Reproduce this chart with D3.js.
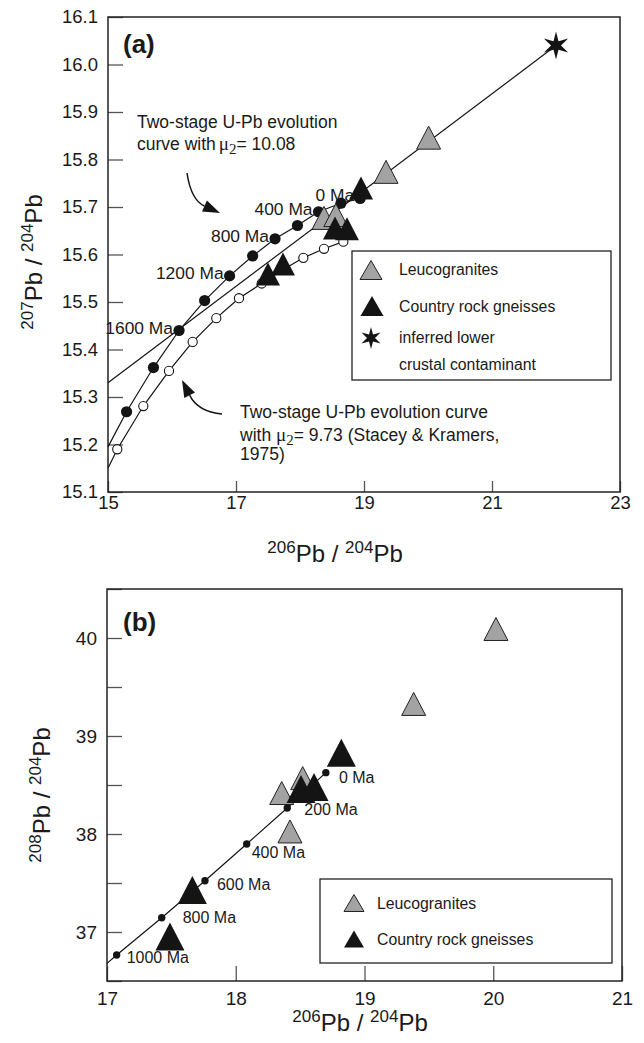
<!DOCTYPE html>
<html>
<head>
<meta charset="utf-8">
<script src="https://cdn.jsdelivr.net/npm/d3@7"></script>
<style>
  body { margin: 0; background: #fff; }
  svg { font-family: "Liberation Sans", Arial, Helvetica, sans-serif; }
</style>
</head>
<body>
<div class="chart"></div>
<script>
// ---------- panel (a) : 207Pb/204Pb vs 206Pb/204Pb ----------
// two-stage curve with mu2 = 10.08, 2000 Ma .. 0 Ma every 200 Ma
const agesA = [2000, 1800, 1600, 1400, 1200, 1000, 800, 600, 400, 200, 0];
const hiCurveX = [15.29, 15.71, 16.11, 16.51, 16.90, 17.26, 17.61, 17.96, 18.29, 18.64, 18.94];
const hiCurveY = [15.269, 15.362, 15.440, 15.503, 15.555, 15.597, 15.633, 15.661, 15.690, 15.708, 15.718];
const hiCurveStart = [15.0, 15.195];
// Stacey & Kramers curve, mu2 = 9.73
const skCurveX = [15.145, 15.552, 15.953, 16.323, 16.692, 17.047, 17.402, 17.734, 18.052, 18.375, 18.677];
const skCurveY = [15.190, 15.281, 15.355, 15.416, 15.466, 15.508, 15.539, 15.568, 15.593, 15.612, 15.627];
const skCurveStart = [15.0, 15.15];
const labelledAgesA = [1600, 1200, 800, 400, 0];
// mixing line towards lower crust
const mixLine = [[15.0, 15.33], [22.0, 16.04]];
const contaminant = [22.0, 16.04];
const leucoA = [[20.01, 15.846], [19.344, 15.774], [18.375, 15.677], [18.56, 15.683]];
const gneissA = [[18.953, 15.74], [18.547, 15.656], [18.734, 15.654], [17.734, 15.58], [17.5, 15.559]];
const xTicksA = [15, 17, 19, 21, 23];
const yTicksA = [15.1, 15.2, 15.3, 15.4, 15.5, 15.6, 15.7, 15.8, 15.9, 16.0, 16.1];

// ---------- panel (b) : 208Pb/204Pb vs 206Pb/204Pb ----------
const agesB = [1000, 800, 600, 400, 200, 0];
const skBX = [17.075, 17.425, 17.761, 18.085, 18.400, 18.70];
const skBY = [36.765, 37.146, 37.523, 37.898, 38.265, 38.626];
const skBStart = [17.0, 36.68];
const leucoB = [[20.021, 40.092], [19.382, 39.327], [18.357, 38.418], [18.421, 38.026], [18.52, 38.57]];
const gneissB = [[18.82, 38.83], [18.507, 38.459], [18.608, 38.48], [17.663, 37.429], [17.489, 36.954]];
const xTicksB = [17, 18, 19, 20, 21];
const yTicksB = [36.5, 37, 37.5, 38, 38.5, 39, 39.5, 40, 40.5];

const legendA = ["Leucogranites", "Country rock gneisses", "inferred lower", "crustal contaminant"];
const legendB = ["Leucogranites", "Country rock gneisses"];

// label placement (pixels) for the age labels of panel (b)
const ageLabelOffsetB = [[10, 8], [21, 5], [12, 9], [5, 14], [17, 7], [13, 10]];

const grey = "#a3a3a3", ink = "#141414";
const serif = "Liberation Serif, Times New Roman, serif";

const triPath = (w, h) => `M0,${-h / 2}L${w / 2},${h / 2}L${-w / 2},${h / 2}Z`;
const starPath = (ro, ri) => {
    const p = [];
    for (let i = 0; i < 12; i++) {
        const a = -Math.PI / 2 + i * Math.PI / 6;
        const r = i % 2 ? ri : ro;
        p.push([r * Math.cos(a), r * Math.sin(a)]);
    }
    return "M" + p.join("L") + "Z";
};

const svg = d3.select(".chart").append("svg")
    .attr("width", 644)
    .attr("height", 1043);

svg.append("rect").attr("width", 644).attr("height", 1043).attr("fill", "#fff");

//title like 206Pb / 204Pb with superscript mass numbers
const isoTitle = (x, y, top, bottom, rotate) => {
    const t = svg.append("text")
        .attr("text-anchor", "middle")
        .attr("fill", "#1a1a1a")
        .attr("transform", `translate(${x},${y})` + (rotate ? " rotate(-90)" : ""));
    [[top, true], ["Pb / ", false], [bottom, true], ["Pb", false]].forEach(([s, sup]) => {
        t.append("tspan")
            .attr("font-size", sup ? 17 : 24)
            .attr("dy", sup ? -9 : 9)
            .text(s);
    });
    t.select("tspan").attr("dy", -9);
};

const styleAxis = (g) => {
    g.select(".domain").remove();
    g.selectAll(".tick line").attr("stroke", "#555").attr("stroke-width", 1.3);
    g.selectAll(".tick text").attr("fill", "#1a1a1a").attr("font-family", "Liberation Sans, Arial, sans-serif");
};

const drawArrow = (g, tail, ctrl, tip) => {
    const ang = Math.atan2(tip[1] - ctrl[1], tip[0] - ctrl[0]);
    const len = 17, half = 6;
    const base = [tip[0] - len * Math.cos(ang), tip[1] - len * Math.sin(ang)];
    g.append("path")
        .attr("d", `M${tail[0]},${tail[1]}Q${ctrl[0]},${ctrl[1]} ${base[0]},${base[1]}`)
        .attr("fill", "none").attr("stroke", ink).attr("stroke-width", 1.5);
    const px = -Math.sin(ang) * half, py = Math.cos(ang) * half;
    g.append("path")
        .attr("d", `M${tip[0]},${tip[1]}L${base[0] + px},${base[1] + py}L${base[0] - px},${base[1] - py}Z`)
        .attr("fill", ink);
};

// ================= panel (a) =================
const xA = d3.scaleLinear().domain([15, 23]).range([108, 620]);
const yA = d3.scaleLinear().domain([15.1, 16.1]).range([492, 17]);
const gA = svg.append("g");

gA.append("g")
    .attr("transform", "translate(108,0)")
    .call(d3.axisLeft(yA).tickValues(yTicksA).tickFormat(d3.format(".1f")).tickSize(-15).tickPadding(10))
    .attr("font-size", 18.5)
    .call(styleAxis);

gA.append("g")
    .attr("transform", "translate(0,492)")
    .call(d3.axisBottom(xA).tickValues(xTicksA).tickFormat(d3.format("d")).tickSize(-11).tickPadding(4))
    .attr("font-size", 18.5)
    .call(styleAxis);

gA.append("rect")
    .attr("x", 108).attr("y", 17).attr("width", 512).attr("height", 475)
    .attr("fill", "none").attr("stroke", "#222").attr("stroke-width", 1.5);

const lineA = d3.line().x(d => xA(d[0])).y(d => yA(d[1]));
const hiPts = hiCurveX.map((x, i) => [x, hiCurveY[i]]);
const skPts = skCurveX.map((x, i) => [x, skCurveY[i]]);

gA.append("path").attr("d", lineA(mixLine)).attr("fill", "none").attr("stroke", ink).attr("stroke-width", 1.2);
gA.append("path").attr("d", lineA([hiCurveStart, ...hiPts])).attr("fill", "none").attr("stroke", ink).attr("stroke-width", 1.2);
gA.append("path").attr("d", lineA([skCurveStart, ...skPts])).attr("fill", "none").attr("stroke", ink).attr("stroke-width", 1.2);

gA.selectAll(".sk").data(skPts).enter().append("circle")
    .attr("cx", d => xA(d[0])).attr("cy", d => yA(d[1])).attr("r", 4.6)
    .attr("fill", "#fff").attr("stroke", ink).attr("stroke-width", 1.1);

gA.selectAll(".hi").data(hiPts).enter().append("circle")
    .attr("cx", d => xA(d[0])).attr("cy", d => yA(d[1])).attr("r", 5.6)
    .attr("fill", ink);

gA.selectAll(".agelab").data(labelledAgesA).enter().append("text")
    .attr("x", a => xA(hiCurveX[agesA.indexOf(a)]) - 6)
    .attr("y", a => yA(hiCurveY[agesA.indexOf(a)]) + 3)
    .attr("text-anchor", "end")
    .attr("font-size", 17.4)
    .attr("fill", "#1a1a1a")
    .text(a => `${a} Ma`);

gA.selectAll(".leuco").data(leucoA).enter().append("path")
    .attr("d", triPath(24, 23))
    .attr("transform", d => `translate(${xA(d[0])},${yA(d[1])})`)
    .attr("fill", grey).attr("stroke", "#222").attr("stroke-width", 1);

gA.selectAll(".gneiss").data(gneissA).enter().append("path")
    .attr("d", triPath(24, 23))
    .attr("transform", d => `translate(${xA(d[0])},${yA(d[1])})`)
    .attr("fill", ink);

gA.append("path")
    .attr("d", starPath(14, 5))
    .attr("transform", `translate(${xA(contaminant[0])},${yA(contaminant[1])})`)
    .attr("fill", ink);

gA.append("text").attr("x", 123).attr("y", 53)
    .attr("font-size", 26).attr("font-weight", "bold").attr("fill", "#1a1a1a").text("(a)");

// curve annotations
const noteA = gA.append("text").attr("font-size", 17.5).attr("fill", "#1a1a1a");
noteA.append("tspan").attr("x", 137).attr("y", 128).text("Two-stage U-Pb evolution");
const noteA2 = gA.append("text").attr("font-size", 17.5).attr("fill", "#1a1a1a").attr("x", 137).attr("y", 150);
noteA2.append("tspan").text("curve with");
noteA2.append("tspan").attr("font-family", serif).attr("font-size", 19).attr("dx", 3).text("μ");
noteA2.append("tspan").attr("font-family", serif).attr("font-size", 15).attr("dy", 4).text("2");
noteA2.append("tspan").attr("dy", -4).text("= 10.08");

const noteB = gA.append("text").attr("font-size", 17.5).attr("fill", "#1a1a1a");
noteB.append("tspan").attr("x", 240).attr("y", 418).text("Two-stage U-Pb evolution curve");
const noteB2 = gA.append("text").attr("font-size", 17.5).attr("fill", "#1a1a1a").attr("x", 240).attr("y", 441);
noteB2.append("tspan").text("with ");
noteB2.append("tspan").attr("font-family", serif).attr("font-size", 19).text("μ");
noteB2.append("tspan").attr("font-family", serif).attr("font-size", 15).attr("dy", 4).text("2");
noteB2.append("tspan").attr("dy", -4).text("= 9.73 (Stacey & Kramers,");
gA.append("text").attr("font-size", 17.5).attr("fill", "#1a1a1a").attr("x", 240).attr("y", 460).text("1975)");

drawArrow(gA, [187, 173], [191, 200], [220, 213]);
drawArrow(gA, [222, 414], [198, 412], [182, 380]);

// legend (a)
const legA = gA.append("g");
legA.append("rect").attr("x", 352).attr("y", 251).attr("width", 259).attr("height", 129)
    .attr("fill", "#fff").attr("stroke", "#222").attr("stroke-width", 1.3);
legA.append("path").attr("d", triPath(22, 19)).attr("transform", "translate(371,270)")
    .attr("fill", grey).attr("stroke", "#222").attr("stroke-width", 1);
legA.append("path").attr("d", triPath(23, 20)).attr("transform", "translate(372,306)")
    .attr("fill", ink);
legA.append("path").attr("d", starPath(11, 4)).attr("transform", "translate(371,338)")
    .attr("fill", ink);
legA.selectAll(".lt").data(legendA).enter().append("text")
    .attr("x", 399)
    .attr("y", (d, i) => [275, 312, 343, 370][i])
    .attr("font-size", 15.8).attr("fill", "#1a1a1a")
    .text(d => d);

isoTitle(335, 562, "206", "204", false);
isoTitle(42, 262, "207", "204", true);

// ================= panel (b) =================
const xB = d3.scaleLinear().domain([17, 21]).range([107, 622]);
const yB = d3.scaleLinear().domain([36.5, 40.5]).range([981, 589]);
const gB = svg.append("g");

gB.append("g")
    .attr("transform", "translate(107,0)")
    .call(d3.axisLeft(yB).tickValues(yTicksB).tickFormat(d => Number.isInteger(d) ? d : "").tickSize(-15).tickPadding(10))
    .attr("font-size", 19)
    .call(styleAxis);

gB.append("g")
    .attr("transform", "translate(0,981)")
    .call(d3.axisBottom(xB).tickValues(xTicksB).tickFormat(d3.format("d")).tickSize(-15).tickPadding(11))
    .attr("font-size", 19)
    .call(styleAxis);

gB.append("rect")
    .attr("x", 107).attr("y", 589).attr("width", 515).attr("height", 392)
    .attr("fill", "none").attr("stroke", "#222").attr("stroke-width", 1.5);

const lineB = d3.line().x(d => xB(d[0])).y(d => yB(d[1]));
const skBPts = skBX.map((x, i) => [x, skBY[i]]);

gB.append("path").attr("d", lineB([skBStart, ...skBPts])).attr("fill", "none").attr("stroke", ink).attr("stroke-width", 1.2);

gB.selectAll(".leuco").data(leucoB).enter().append("path")
    .attr("d", triPath(24, 23))
    .attr("transform", d => `translate(${xB(d[0])},${yB(d[1])})`)
    .attr("fill", grey).attr("stroke", "#222").attr("stroke-width", 1);

gB.selectAll(".gneiss").data(gneissB).enter().append("path")
    .attr("d", triPath(29, 28))
    .attr("transform", d => `translate(${xB(d[0])},${yB(d[1])})`)
    .attr("fill", ink);

gB.selectAll(".dot").data(skBPts).enter().append("circle")
    .attr("cx", d => xB(d[0])).attr("cy", d => yB(d[1])).attr("r", 3.7)
    .attr("fill", ink);

gB.selectAll(".agelab").data(agesB).enter().append("text")
    .attr("x", (a, i) => xB(skBX[i]) + ageLabelOffsetB[i][0])
    .attr("y", (a, i) => yB(skBY[i]) + ageLabelOffsetB[i][1])
    .attr("font-size", 16)
    .attr("fill", "#1a1a1a")
    .text(a => `${a} Ma`);

gB.append("text").attr("x", 123).attr("y", 631)
    .attr("font-size", 26).attr("font-weight", "bold").attr("fill", "#1a1a1a").text("(b)");

// legend (b)
const legB = gB.append("g");
legB.append("rect").attr("x", 320).attr("y", 879).attr("width", 292).attr("height", 84)
    .attr("fill", "#fff").attr("stroke", "#222").attr("stroke-width", 1.3);
legB.append("path").attr("d", triPath(20, 17)).attr("transform", "translate(354,903)")
    .attr("fill", grey).attr("stroke", "#222").attr("stroke-width", 1);
legB.append("path").attr("d", triPath(20, 17)).attr("transform", "translate(354,939)")
    .attr("fill", ink);
legB.selectAll(".lt").data(legendB).enter().append("text")
    .attr("x", 377)
    .attr("y", (d, i) => [909, 945][i])
    .attr("font-size", 15.8).attr("fill", "#1a1a1a")
    .text(d => d);

isoTitle(360, 1031, "206", "204", false);
isoTitle(50, 795, "208", "204", true);
</script>
</body>
</html>
